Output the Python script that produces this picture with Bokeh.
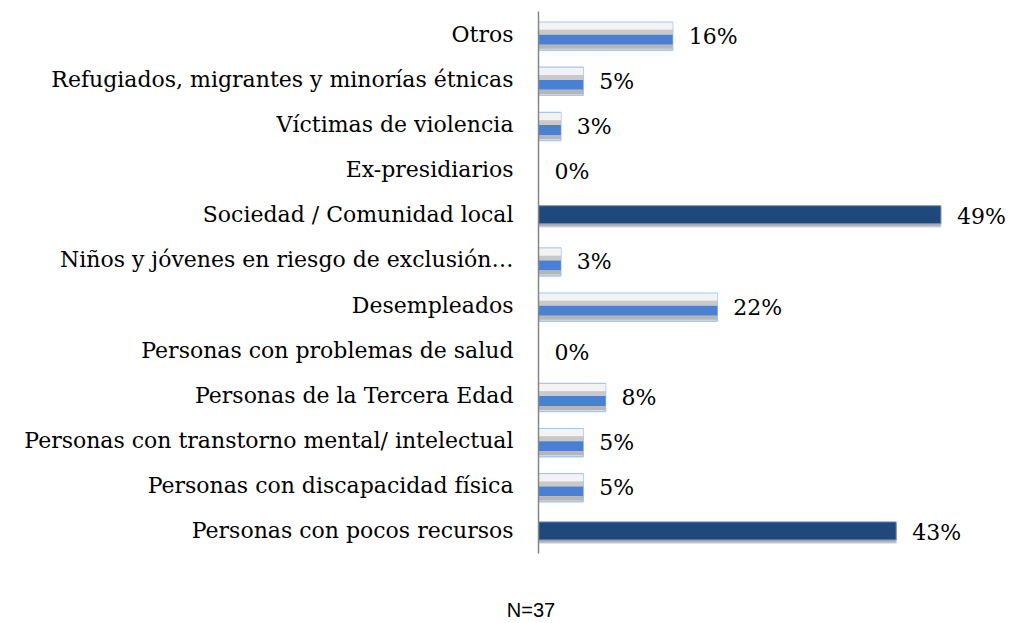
from bokeh.plotting import figure
from bokeh.models import ColumnDataSource, Range1d, FactorRange, Div
from bokeh.layouts import column
from bokeh.core.properties import value
from bokeh.embed import file_html
from bokeh.resources import INLINE

categories = [
    "Personas con pocos recursos",
    "Personas con discapacidad física",
    "Personas con transtorno mental/ intelectual",
    "Personas de la Tercera Edad",
    "Personas con problemas de salud",
    "Desempleados",
    "Niños y jóvenes en riesgo de exclusión…",
    "Sociedad / Comunidad local",
    "Ex-presidiarios",
    "Víctimas de violencia",
    "Refugiados, migrantes y minorías étnicas",
    "Otros",
]
values = [43.2, 5.4, 5.4, 8.1, 0.0, 21.6, 2.7, 48.6, 0.0, 2.7, 5.4, 16.2]
labels = ["43%", "5%", "5%", "8%", "0%", "22%", "3%", "49%", "0%", "3%", "5%", "16%"]
highlight = [True, False, False, False, False, False, False, True, False, False, False, False]
note = "N=37"

SERIF = "DejaVu Serif"

p = figure(
    width=1010, height=598,
    y_range=FactorRange(*categories, range_padding=0),
    x_range=Range1d(0, 57.0),
    output_backend="svg", toolbar_location=None,
    min_border_left=538, min_border_right=0, min_border_top=11, min_border_bottom=45,
)
p.outline_line_color = None
p.xgrid.visible = False
p.ygrid.visible = False
p.xaxis.visible = False

ax = p.yaxis[0]
ax.axis_line_color = "#868686"
ax.axis_line_width = 1.5
ax.major_tick_line_color = None
ax.minor_tick_line_color = None
ax.major_tick_out = 0
ax.major_tick_in = 0
ax.major_label_standoff = 25
ax.major_label_text_font = SERIF
ax.major_label_text_font_size = "22px"
ax.major_label_text_color = "#000000"

light_c = [c for c, h, v in zip(categories, highlight, values) if not h and v > 0]
light_v = [v for c, h, v in zip(categories, highlight, values) if not h and v > 0]
dark_c = [c for c, h in zip(categories, highlight) if h]
dark_v = [v for v, h in zip(values, highlight) if h]

def off(cats, o):
    return [(c, o) for c in cats]

# dark bars: soft shadow below, then solid fill
p.hbar(y=off(dark_c, -0.07), right=dark_v, left=0, height=0.40,
       fill_color="#b4b4b4", line_color="#c9d7ef", line_width=1)
p.hbar(y=off(dark_c, 0.0), right=dark_v, left=0, height=0.40,
       fill_color="#1f497d", line_color="#7f93b3", line_width=1)

# light cylinder-like bars
p.hbar(y=off(light_c, -0.046), right=light_v, left=0, height=0.62,
       fill_color="#e2e2e2", line_color="#a9c6f3", line_width=1.5)
p.hbar(y=off(light_c, 0.175), right=light_v, left=0, height=0.16,
       fill_color="#f3f3f3", line_color=None)
p.hbar(y=off(light_c, 0.04), right=light_v, left=0, height=0.11,
       fill_color="#c9c9c9", line_color=None)
p.hbar(y=off(light_c, -0.124), right=light_v, left=0, height=0.22,
       fill_color="#4a80d3", line_color=None)
p.hbar(y=off(light_c, -0.28), right=light_v, left=0, height=0.09,
       fill_color="#b6b6b6", line_color=None)

tsrc = ColumnDataSource(dict(x=values, y=categories, t=labels))
p.text(x="x", y="y", text="t", source=tsrc, x_offset=16, y_offset=2,
       text_align="left", text_baseline="middle",
       text_font=value(SERIF), text_font_size="22px", text_color="#000000")

note_div = Div(text=note, width=100, height=25, margin=(0, 0, 0, 481),
               styles={"font-family": "Liberation Sans", "font-size": "20px",
                       "text-align": "center", "line-height": "25px",
                       "color": "#000000"})

layout = column(p, note_div, spacing=0)

open("out.html", "w").write(file_html(layout, INLINE))
